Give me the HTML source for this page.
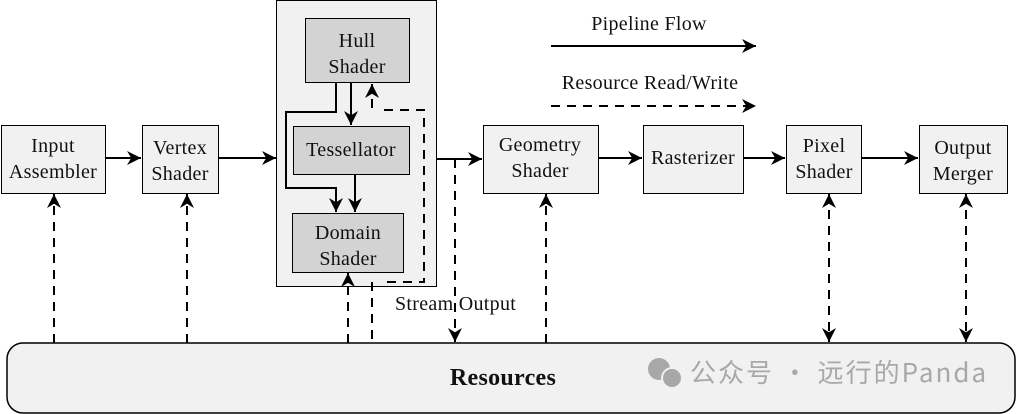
<!DOCTYPE html>
<html><head><meta charset="utf-8"><style>
html,body{margin:0;padding:0;background:#fff;}
svg{display:block;}
text{font-family:"Liberation Serif",serif;font-size:20px;fill:#111;letter-spacing:0.3px;}
</style></head><body>
<svg width="1016" height="414" viewBox="0 0 1016 414" xmlns="http://www.w3.org/2000/svg">
<defs>
<marker id="b" viewBox="0 0 10 10" refX="10" refY="5" markerWidth="14" markerHeight="14" orient="auto-start-reverse" markerUnits="userSpaceOnUse"><path d="M0,0 L10,5 L0,10 L3,5 z" fill="#000"/></marker>
</defs>
<rect width="1016" height="414" fill="#fff"/>
<rect x="7" y="343" width="1008" height="70" rx="16" fill="#f1f1f1" stroke="#000" stroke-width="1.5"/>
<text x="503" y="385" text-anchor="middle" style="font-weight:bold;font-size:24px">Resources</text>
<text x="690" y="382" style="font-family:'Noto Sans CJK SC',sans-serif;font-size:26px;fill:#a8a8a8;letter-spacing:2px">公众号 · 远行的Panda</text>
<circle cx="659" cy="369" r="11" fill="#a8a8a8"/><circle cx="672" cy="378" r="10" fill="#a8a8a8" stroke="#f1f1f1" stroke-width="2"/>
<rect x="276.5" y="0.5" width="160" height="286" fill="#f1f1f1" stroke="#000"/>
<g stroke="#000" stroke-width="1" fill="#d3d3d3">
<rect x="305.5" y="18.5" width="104" height="64"/>
<rect x="293.5" y="126.5" width="116" height="48"/>
<rect x="292.5" y="213.5" width="111" height="59"/>
</g>
<g stroke="#000" stroke-width="1" fill="#f1f1f1">
<rect x="1.5" y="125.5" width="104" height="68"/>
<rect x="142.5" y="125.5" width="76" height="68"/>
<rect x="483.5" y="125.5" width="115" height="68"/>
<rect x="643.5" y="125.5" width="100" height="68"/>
<rect x="786.5" y="125.5" width="75" height="68"/>
<rect x="919.5" y="125.5" width="88" height="68"/>
</g>
<g text-anchor="middle">
<text x="53" y="152">Input</text><text x="53" y="178">Assembler</text>
<text x="180" y="154">Vertex</text><text x="180" y="180">Shader</text>
<text x="357" y="47">Hull</text><text x="357" y="73">Shader</text>
<text x="351" y="156">Tessellator</text>
<text x="348" y="239">Domain</text><text x="348" y="265">Shader</text>
<text x="540" y="151">Geometry</text><text x="540" y="177">Shader</text>
<text x="693" y="164">Rasterizer</text>
<text x="824" y="152">Pixel</text><text x="824" y="178">Shader</text>
<text x="963" y="154">Output</text><text x="963" y="180">Merger</text>
<text x="649" y="30">Pipeline Flow</text>
<text x="650" y="89">Resource Read/Write</text>
</g>
<text x="395" y="310">Stream Output</text>
<g stroke="#000" stroke-width="2" fill="none" marker-end="url(#b)">
<line x1="106" y1="158" x2="141" y2="158"/>
<line x1="219" y1="158" x2="276" y2="158"/>
<line x1="437" y1="159" x2="482" y2="159"/>
<line x1="599" y1="158" x2="642" y2="158"/>
<line x1="744" y1="158" x2="785" y2="158"/>
<line x1="862" y1="158" x2="918" y2="158"/>
<line x1="351" y1="83" x2="351" y2="125"/>
<line x1="355" y1="175" x2="355" y2="212"/>
<polyline points="336,83 336,112 286,112 286,188 336,188 336,212"/>
<line x1="551" y1="46" x2="756" y2="46"/>
</g>
<g stroke="#000" stroke-width="2" fill="none" stroke-dasharray="9,7">
<polyline points="384,110 424,110 424,282 384,282"/>
<line x1="372" y1="282" x2="372" y2="343"/>
<line x1="551" y1="106" x2="756" y2="106" marker-end="url(#b)"/>
<line x1="372" y1="108" x2="372" y2="84" marker-end="url(#b)"/>
<line x1="348" y1="343" x2="348" y2="273" marker-end="url(#b)"/>
<line x1="455" y1="159" x2="455" y2="342" marker-end="url(#b)"/>
<line x1="54" y1="343" x2="54" y2="194" marker-end="url(#b)"/>
<line x1="187" y1="343" x2="187" y2="194" marker-end="url(#b)"/>
<line x1="546" y1="343" x2="546" y2="194" marker-end="url(#b)"/>
<line x1="829" y1="194" x2="829" y2="342" marker-start="url(#b)" marker-end="url(#b)"/>
<line x1="966" y1="194" x2="966" y2="342" marker-start="url(#b)" marker-end="url(#b)"/>
</g>
</svg>
</body></html>
